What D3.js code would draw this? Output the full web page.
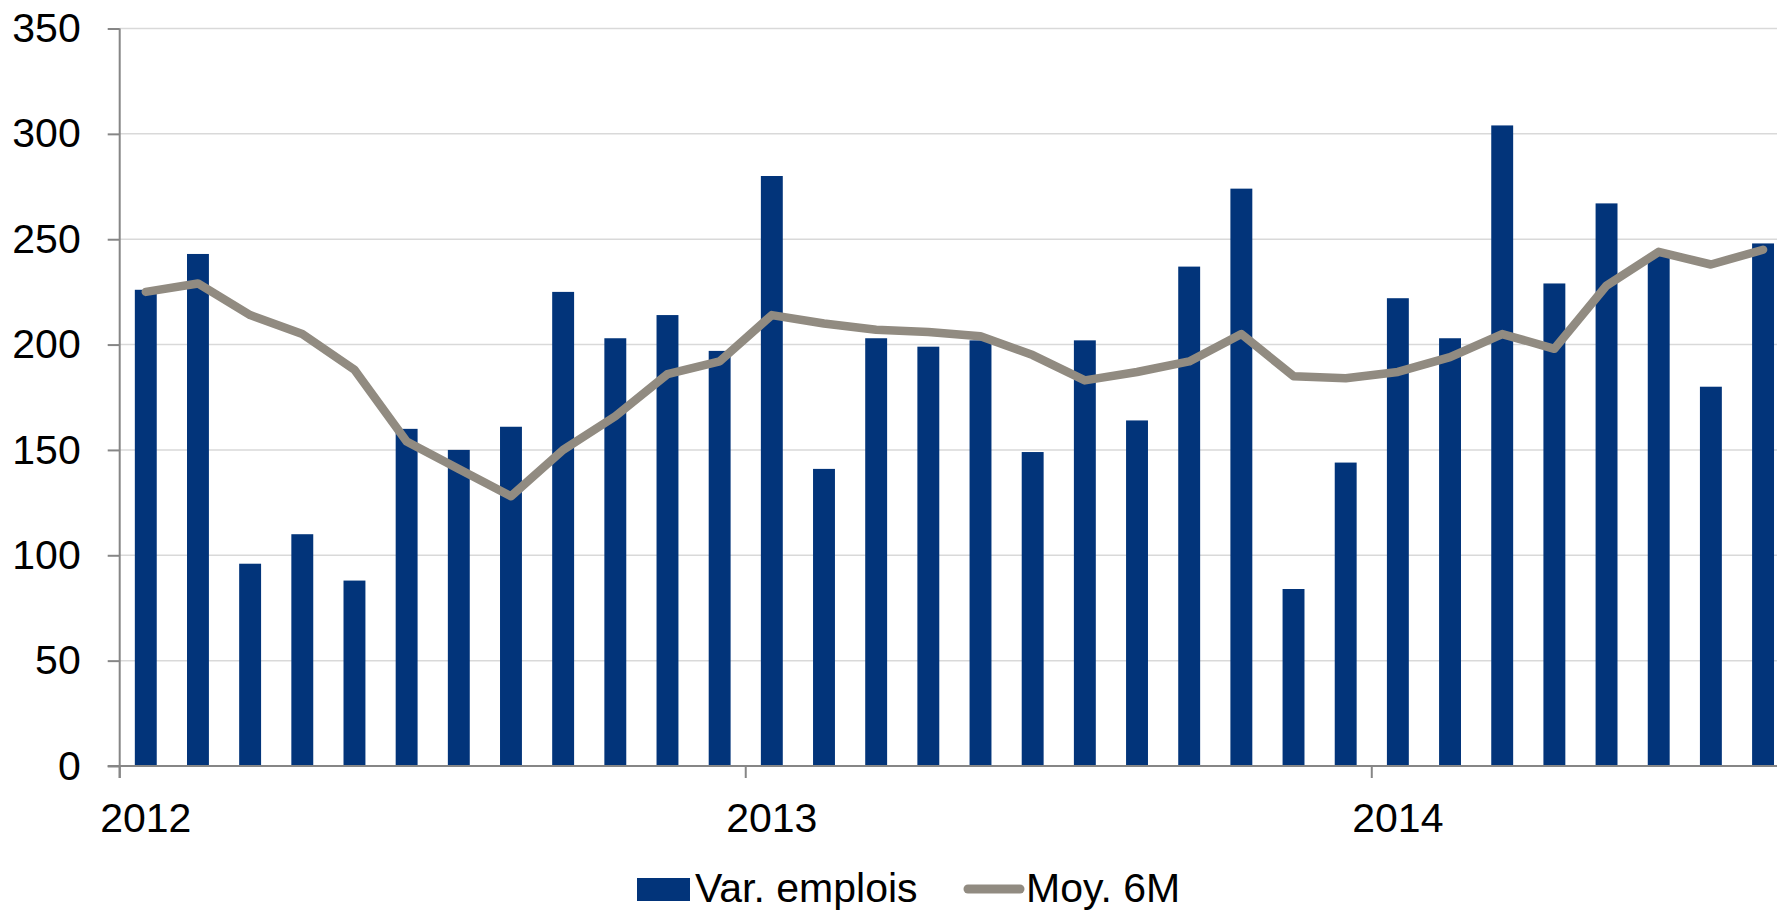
<!DOCTYPE html>
<html>
<head>
<meta charset="utf-8">
<script src="https://cdn.jsdelivr.net/npm/d3@7"></script>
<style>
  body { margin: 0; background: #fff; }
  text { font-family: "Liberation Sans", Arial, sans-serif; fill: #000; }
</style>
</head>
<body>
<svg id="chart" width="1777" height="911"></svg>
<script>
// mois (jan. 2012 -> août 2014)
const months = [
  '2012-01','2012-02','2012-03','2012-04','2012-05','2012-06','2012-07','2012-08','2012-09','2012-10','2012-11','2012-12',
  '2013-01','2013-02','2013-03','2013-04','2013-05','2013-06','2013-07','2013-08','2013-09','2013-10','2013-11','2013-12',
  '2014-01','2014-02','2014-03','2014-04','2014-05','2014-06','2014-07','2014-08'
]
const varEmplois = [226, 243, 96, 110, 88, 160, 150, 161, 225, 203, 214, 197,
  280, 141, 203, 199, 202, 149, 202, 164, 237, 274, 84, 144,
  222, 203, 304, 229, 267, 242, 180, 248]
const moy6M = [225, 229, 214, 205, 188, 154, 141, 128, 150, 166, 186, 192,
  214, 210, 207, 206, 204, 195, 183, 187, 192, 205, 185, 184,
  187, 194, 205, 198, 228, 244, 238, 245]
const yearLabels = ['2012', '2013', '2014']
const yTicks = [0, 50, 100, 150, 200, 250, 300, 350]
const seriesNames = ['Var. emplois', 'Moy. 6M']

const barColor = '#02347a'
const lineColor = '#918b81'
const gridColor = '#d9d9d9'
const axisColor = '#868686'
const fontSize = 41

const svg = d3.select('#chart')
const width = 1777
const left = 119.7
const step = 52.17

const x = d3.scaleBand()
  .domain(months)
  .range([left, left + step * months.length])
  .paddingInner(0.58)
  .paddingOuter(0.29)

const y = d3.scaleLinear()
  .domain([0, 350])
  .range([766, 28.5])

const bw = x.bandwidth()
const cx = m => x(m) + bw / 2

// grille
svg.append('g')
  .selectAll('line')
  .data(yTicks.filter(d => d > 0))
  .enter()
  .append('line')
    .attr('x1', left)
    .attr('x2', width)
    .attr('y1', d => y(d))
    .attr('y2', d => y(d))
    .attr('stroke', gridColor)
    .attr('stroke-width', 1.5)

// barres
svg.append('g')
  .selectAll('rect')
  .data(months)
  .enter()
  .append('rect')
    .attr('x', d => x(d))
    .attr('y', (d, i) => y(varEmplois[i]))
    .attr('width', bw)
    .attr('height', (d, i) => y(0) - y(varEmplois[i]))
    .attr('fill', barColor)

// axe y
const yAxis = d3.axisLeft(y)
  .tickValues(yTicks)
  .tickSize(12)
  .tickPadding(27)

const gy = svg.append('g')
  .attr('transform', `translate(${left}, 0)`)
  .call(yAxis)

gy.select('path.domain').remove()
gy.selectAll('.tick line').attr('stroke', axisColor).attr('stroke-width', 2)
gy.selectAll('.tick text')
  .style('font-size', fontSize + 'px')
  .style('font-family', '"Liberation Sans", Arial, sans-serif')
  .attr('fill', '#000')

svg.append('line')
  .attr('x1', left).attr('x2', left)
  .attr('y1', y(350)).attr('y2', y(0) + 12)
  .attr('stroke', axisColor).attr('stroke-width', 2)

// axe x
svg.append('line')
  .attr('x1', left - 12).attr('x2', width)
  .attr('y1', y(0)).attr('y2', y(0))
  .attr('stroke', axisColor).attr('stroke-width', 2)

const yearStart = yearLabels.map(yr => yr + '-01')

svg.append('g')
  .selectAll('line')
  .data(yearStart)
  .enter()
  .append('line')
    .attr('x1', d => x(d) - x.step() * x.paddingOuter())
    .attr('x2', d => x(d) - x.step() * x.paddingOuter())
    .attr('y1', y(0))
    .attr('y2', y(0) + 12)
    .attr('stroke', axisColor)
    .attr('stroke-width', 2)

svg.append('g')
  .selectAll('text')
  .data(yearLabels)
  .enter()
  .append('text')
    .attr('x', d => cx(d + '-01'))
    .attr('y', 832)
    .attr('text-anchor', 'middle')
    .style('font-size', fontSize + 'px')
    .text(d => d)

// moyenne 6 mois
const line = d3.line()
  .x(d => cx(d))
  .y((d, i) => y(moy6M[i]))

svg.append('path')
  .datum(months)
  .attr('d', line)
  .attr('fill', 'none')
  .attr('stroke', lineColor)
  .attr('stroke-width', 8.5)
  .attr('stroke-linecap', 'round')
  .attr('stroke-linejoin', 'round')

// légende
const legend = svg.append('g')

legend.append('rect')
  .attr('x', 637).attr('y', 878)
  .attr('width', 53).attr('height', 23)
  .attr('fill', barColor)

legend.append('text')
  .attr('x', 695).attr('y', 902)
  .style('font-size', fontSize + 'px')
  .text(seriesNames[0])

legend.append('line')
  .attr('x1', 968).attr('x2', 1020)
  .attr('y1', 889).attr('y2', 889)
  .attr('stroke', lineColor)
  .attr('stroke-width', 9)
  .attr('stroke-linecap', 'round')

legend.append('text')
  .attr('x', 1026).attr('y', 902)
  .style('font-size', fontSize + 'px')
  .text(seriesNames[1])
</script>
</body>
</html>
